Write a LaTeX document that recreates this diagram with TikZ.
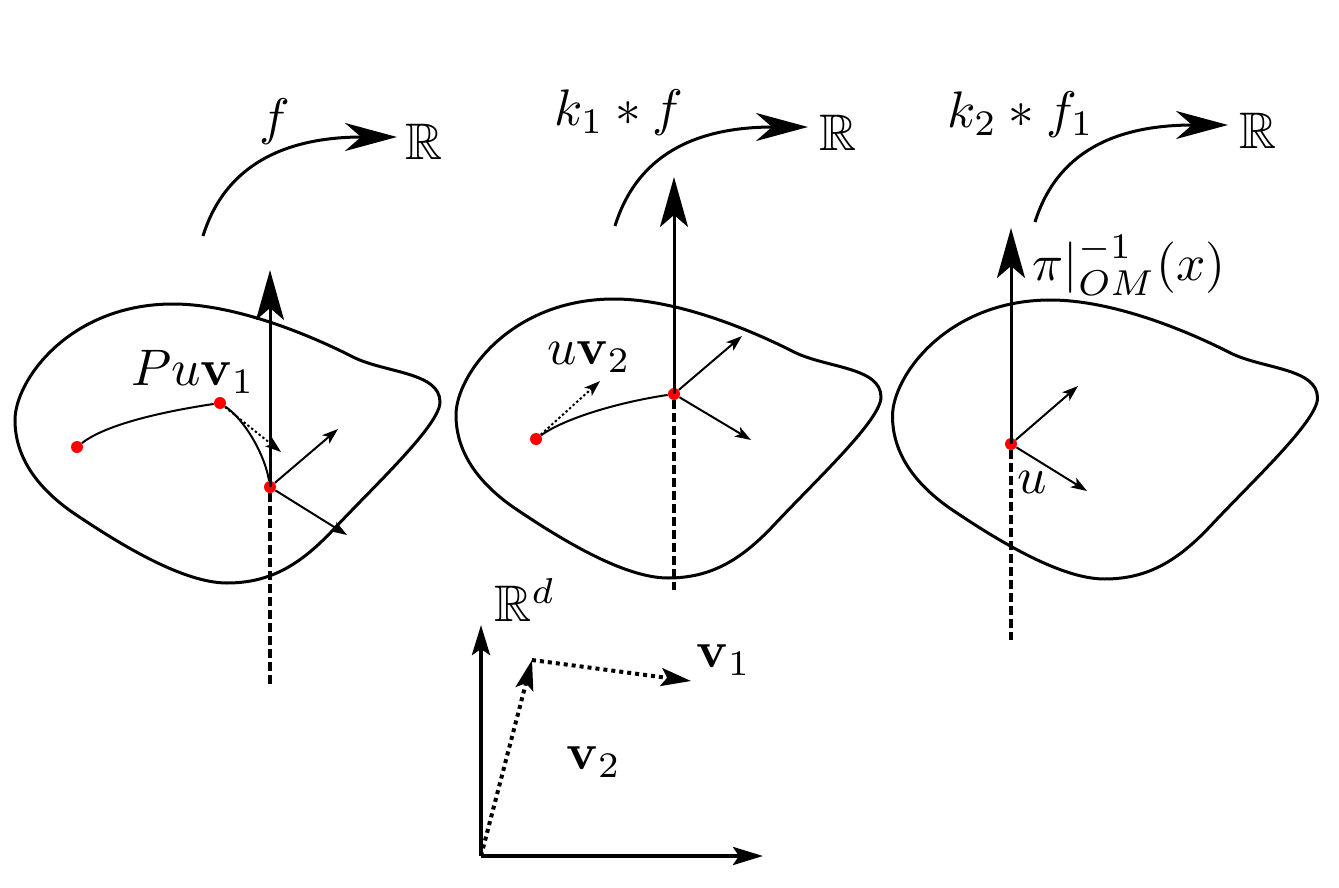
\documentclass[tikz,border=0pt]{standalone}
\usepackage{amsmath,amssymb}
\usetikzlibrary{arrows.meta}

\begin{document}
\begin{tikzpicture}[
    x=0.5pt, y=-0.5pt,
    lab/.style={inner sep=0pt, scale=2.57},
    pt/.style={circle, fill=red, inner sep=0pt, minimum size=6pt},
    outline/.style={line width=1.5pt},
    lift/.style={-{Stealth[length=25pt, width=14pt, inset=6pt]}, line width=1.5pt},
    fibre/.style={line width=1.7pt, dash pattern=on 4.5pt off 2pt},
    tang/.style={-{Stealth[length=8pt, width=5.5pt, inset=2pt]}, line width=1pt},
    geod/.style={line width=1pt},
    transp/.style={-{Stealth[length=8pt, width=5.5pt, inset=2pt]}, line width=1pt, dash pattern=on 1.2pt off 1.2pt},
    swing/.style={-{Stealth[length=26pt, width=14pt, inset=8pt]}, line width=1.5pt},
    axis/.style={-{Stealth[length=15pt, width=9pt, inset=3pt]}, line width=2pt},
    basis/.style={-{Stealth[length=15pt, width=9pt, inset=3pt]}, line width=2pt, dash pattern=on 2pt off 2pt},
    blob/.pic={
        \draw[outline] (15,420) .. controls (15,380) and (70,304) .. (173,304)
            .. controls (230,304) and (300,330) .. (353,357)
            .. controls (385,373) and (440,372) .. (440,402)
            .. controls (440,425) and (375,485) .. (333,530)
            .. controls (300,565) and (270,583) .. (227,583)
            .. controls (185,583) and (125,548) .. (72,512)
            .. controls (38,488) and (15,458) .. cycle;
    }
]
\useasboundingbox (0,0) rectangle (1339,888);

% Outlines
\pic at (0,0) {blob};
\pic at (441,-5) {blob};
\pic at (877.5,-4) {blob};

% Left
\node[pt] (start1) at (77,447) {};
\node[pt] (turn1) at (220,403) {};
\node[pt] (base1) at (270,487) {};
\coordinate (top1) at (270,270);
\coordinate (low1) at (270,685);
\coordinate (tu1) at (338,429);
\coordinate (tv1) at (347,535);
\coordinate (tp1) at (281,452);
\draw[lift] (base1.center) -- (top1);
\draw[fibre] (base1) -- (low1);
\draw[geod] (start1) .. controls (105,425) and (160,412) .. (turn1);
\draw[geod] (turn1) .. controls (245,420) and (265,455) .. (base1);
\draw[tang] (base1) -- (tu1);
\draw[tang] (base1) -- (tv1);
\draw[transp] (turn1) -- (tp1);
\node[lab] (puv) at (193,372) {$Pu\mathbf{v}_1$};

\coordinate (sa1) at (203,236);
\node[lab] (real1) at (424,142) {$\mathbb{R}$};
\draw[swing] (sa1) .. controls (225,165) and (285,137) .. (397,137);
\node[lab] (f1) at (275,122) {$f$};

% Middle
\node[pt] (start2) at (536,439) {};
\node[pt] (base2) at (674,394) {};
\coordinate (top2) at (674,177);
\coordinate (low2) at (674,590);
\coordinate (tu2) at (742,336);
\coordinate (tv2) at (751,440);
\coordinate (tp2) at (600,381);
\draw[lift] (base2.center) -- (top2);
\draw[fibre] (base2) -- (low2);
\draw[geod] (start2) .. controls (565,418) and (620,402) .. (base2);
\draw[tang] (base2) -- (tu2);
\draw[tang] (base2) -- (tv2);
\draw[transp] (start2) -- (tp2);
\node[lab] (uvb) at (589,357) {$u\mathbf{v}_2$};

\coordinate (sa2) at (615,226);
\node[lab] (real2) at (838,133) {$\mathbb{R}$};
\draw[swing] (sa2) .. controls (637,155) and (695,127) .. (808,127);
\node[lab] (f2) at (619,113) {$k_1 * f$};

% Right
\node[pt] (base3) at (1011,444) {};
\coordinate (top3) at (1011,228);
\coordinate (low3) at (1011,640);
\coordinate (tu3) at (1078,386);
\coordinate (tv3) at (1087,491);
\draw[lift] (base3.center) -- (top3);
\draw[fibre] (base3) -- (low3);
\draw[tang] (base3) -- (tu3);
\draw[tang] (base3) -- (tv3);
\node[lab] (u3) at (1032,482) {$u$};
\node[lab] (inv) at (1129,265) {$\pi|_{OM}^{-1}(x)$};

\coordinate (sa3) at (1035,222);
\node[lab] (real3) at (1258,131) {$\mathbb{R}$};
\draw[swing] (sa3) .. controls (1057,152) and (1115,125) .. (1228,125);
\node[lab] (f3) at (1021,115) {$k_2 * f_1$};

% Axes
\coordinate (orig) at (481,856);
\coordinate (yend) at (481,625);
\coordinate (xend) at (763,856);
\coordinate (vb) at (532,660);
\coordinate (va) at (691,681);
\draw[axis] (orig) -- (yend);
\draw[axis] (orig) -- (xend);
\draw[basis] (orig) -- (vb);
\draw[basis] (vb) -- (va);
\node[lab] (rd) at (525,600) {$\mathbb{R}^d$};
\node[lab] (v1) at (724,660) {$\mathbf{v}_1$};
\node[lab] (v2) at (594,762) {$\mathbf{v}_2$};

\end{tikzpicture}
\end{document}
